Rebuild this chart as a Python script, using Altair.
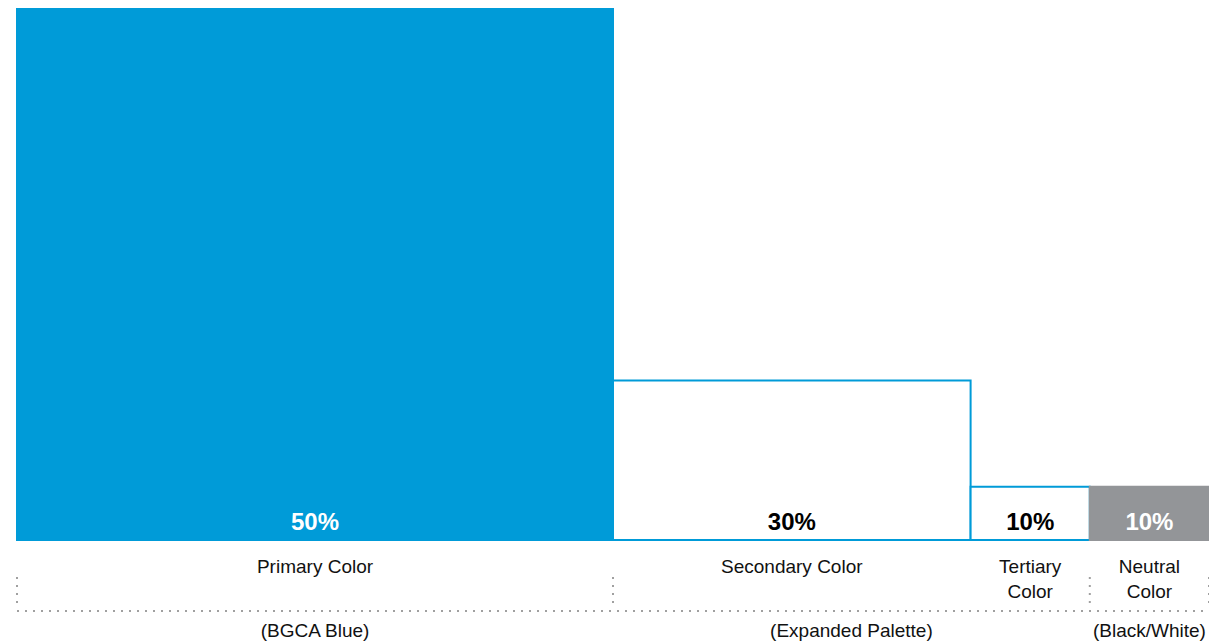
import altair as alt
import pandas as pd

# ---- data ----
categories = ["Primary Color", "Secondary Color", "Tertiary Color", "Neutral Color"]
name_labels = ["Primary Color", "Secondary Color", "Tertiary\nColor", "Neutral\nColor"]
shares = [50, 30, 10, 10]          # width of each block (percent of palette)
heights = [100, 30, 10, 10]        # block height (relative)
pct_labels = ["50%", "30%", "10%", "10%"]
fills = ["#009BD8", "#FFFFFF", "#FFFFFF", "#939598"]
strokes = ["#009BD8", "#009BD8", "#009BD8", "#939598"]
pct_colors = ["#FFFFFF", "#000000", "#000000", "#FFFFFF"]

group_labels = ["(BGCA Blue)", "(Expanded Palette)", "(Black/White)"]
group_start = [0, 50, 90]
group_end = [50, 90, 100]
bracket_ticks = [0, 50, 90, 100]

FONT = "Liberation Sans"

df = pd.DataFrame({
    "category": categories,
    "name": name_labels,
    "share": shares,
    "height": heights,
    "pct": pct_labels,
    "fill": fills,
    "stroke": strokes,
    "pct_color": pct_colors,
})
df["x0"] = df["share"].cumsum() - df["share"]
df["x1"] = df["share"].cumsum()
df["xc"] = (df["x0"] + df["x1"]) / 2
df["base"] = 0

gdf = pd.DataFrame({"label": group_labels, "start": group_start, "end": group_end})
gdf["xc"] = (gdf["start"] + gdf["end"]) / 2
tdf = pd.DataFrame({"x": bracket_ticks})

xs = alt.Scale(domain=[0, 100], nice=False, zero=False)
ys = alt.Scale(domain=[0, 100], range=[532, 0], nice=False)

bars = alt.Chart(df).mark_rect(strokeWidth=2).encode(
    x=alt.X("x0:Q", scale=xs, axis=None),
    x2="x1:Q",
    y=alt.Y("height:Q", scale=ys, axis=None),
    y2="base:Q",
    fill=alt.Fill("fill:N", scale=None),
    stroke=alt.Stroke("stroke:N", scale=None),
)

pct = alt.Chart(df).mark_text(
    font=FONT, fontSize=24, fontWeight="bold", baseline="alphabetic", align="center"
).encode(
    x=alt.X("xc:Q", scale=xs),
    y=alt.value(522),
    text="pct:N",
    color=alt.Color("pct_color:N", scale=None),
)

names = alt.Chart(df).mark_text(
    font=FONT, fontSize=19, baseline="alphabetic", align="center",
    lineBreak="\n", lineHeight=25, color="#111111"
).encode(
    x=alt.X("xc:Q", scale=xs),
    y=alt.value(565),
    text="name:N",
)

groups = alt.Chart(gdf).mark_text(
    font=FONT, fontSize=19, baseline="alphabetic", align="center", color="#111111"
).encode(
    x=alt.X("xc:Q", scale=xs),
    y=alt.value(629),
    text="label:N",
)

hline = alt.Chart(pd.DataFrame({"a": [0], "b": [100]})).mark_rule(
    color="#A0A0A0", strokeWidth=2, strokeDash=[2, 6]
).encode(
    x=alt.X("a:Q", scale=xs),
    x2="b:Q",
    y=alt.value(603),
)

vlines = alt.Chart(tdf).mark_rule(
    color="#A0A0A0", strokeWidth=2, strokeDash=[2, 6]
).encode(
    x=alt.X("x:Q", scale=xs),
    y=alt.value(569),
    y2=alt.value(597),
)

chart = alt.layer(bars, pct, names, groups, hline, vlines).properties(
    width=1192,
    height=634,
    autosize=alt.AutoSizeParams(type="none"),
    padding={"left": 9, "top": 0, "right": 0, "bottom": 0},
).configure_view(stroke=None)

chart.save("out.html", embed_options={"renderer": "svg", "actions": False})
